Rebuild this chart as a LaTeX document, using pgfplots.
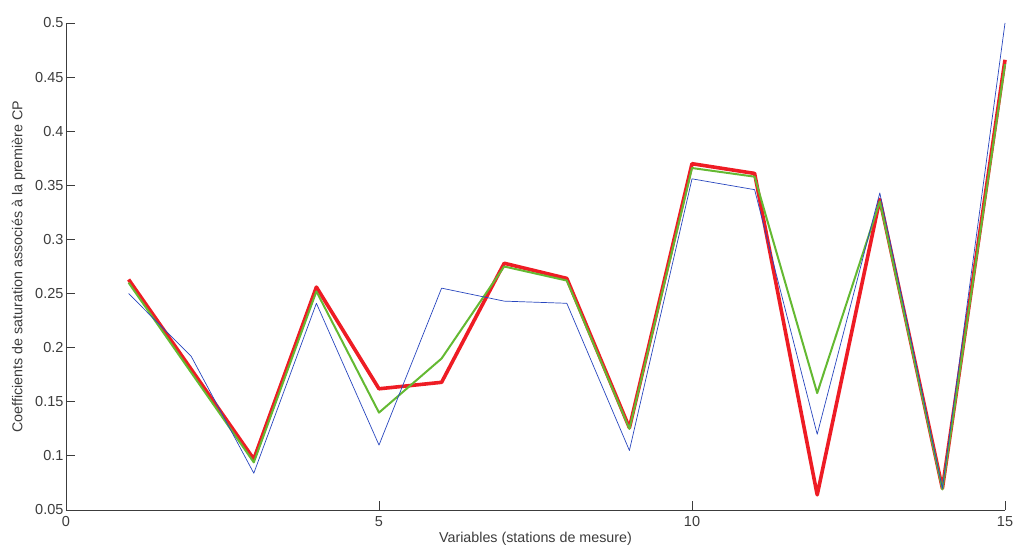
\documentclass[border=0pt]{standalone}
\usepackage{pgfplots}
\pgfplotsset{compat=1.18}
\usepackage{fontspec}
\setmainfont{Liberation Sans}
\definecolor{axgray}{RGB}{60,60,60}
\definecolor{mblue}{RGB}{40,70,190}
\definecolor{mgreen}{RGB}{100,185,50}
\definecolor{mred}{RGB}{238,28,36}
\begin{document}
\begin{tikzpicture}
\useasboundingbox (-66pt,-39pt) rectangle (948pt,510pt);
\begin{axis}[
  at={(0,0)}, anchor=south west,
  scale only axis, width=939pt, height=487pt,
  xmin=0, xmax=15, ymin=0.05, ymax=0.5,
  axis x line=bottom, axis y line=left,
  axis line style={-, draw=axgray, line width=0.8pt},
  tick style={draw=axgray, line width=0.8pt},
  tick align=inside, major tick length=9pt,
  xtick={0,5,10,15},
  ytick={0.05,0.1,0.15,0.2,0.25,0.3,0.35,0.4,0.45,0.5},
  /pgf/number format/assume math mode=true,
  /pgf/number format/fixed, /pgf/number format/precision=2,
  ticklabel style={font=\fontsize{14.5}{17}\selectfont, text=axgray},
  xticklabel style={yshift=-3pt},
  yticklabel style={xshift=1pt},
  label style={font=\fontsize{14.3}{17}\selectfont, text=axgray},
  xlabel={Variables (stations de mesure)},
  ylabel={Coefficients de saturation associés à la première CP},
  xlabel style={yshift=2pt},
  ylabel style={yshift=3pt},
  clip=false,
]
\addplot[mred, line width=3.6pt, line join=round] coordinates {
(1,0.263) (2,0.180) (3,0.097) (4,0.256) (5,0.162) (6,0.168) (7,0.278) (8,0.264) (9,0.126) (10,0.370) (11,0.361) (12,0.064) (13,0.337) (14,0.070) (15,0.466)};
\addplot[mgreen, line width=2pt, line join=round] coordinates {
(1,0.260) (2,0.177) (3,0.094) (4,0.252) (5,0.140) (6,0.190) (7,0.275) (8,0.262) (9,0.125) (10,0.366) (11,0.358) (12,0.158) (13,0.335) (14,0.069) (15,0.462)};
\addplot[mblue, line width=0.7pt, line join=round] coordinates {
(1,0.250) (2,0.192) (3,0.084) (4,0.241) (5,0.110) (6,0.255) (7,0.243) (8,0.241) (9,0.105) (10,0.356) (11,0.346) (12,0.120) (13,0.343) (14,0.070) (15,0.500)};
\end{axis}
\end{tikzpicture}
\end{document}
